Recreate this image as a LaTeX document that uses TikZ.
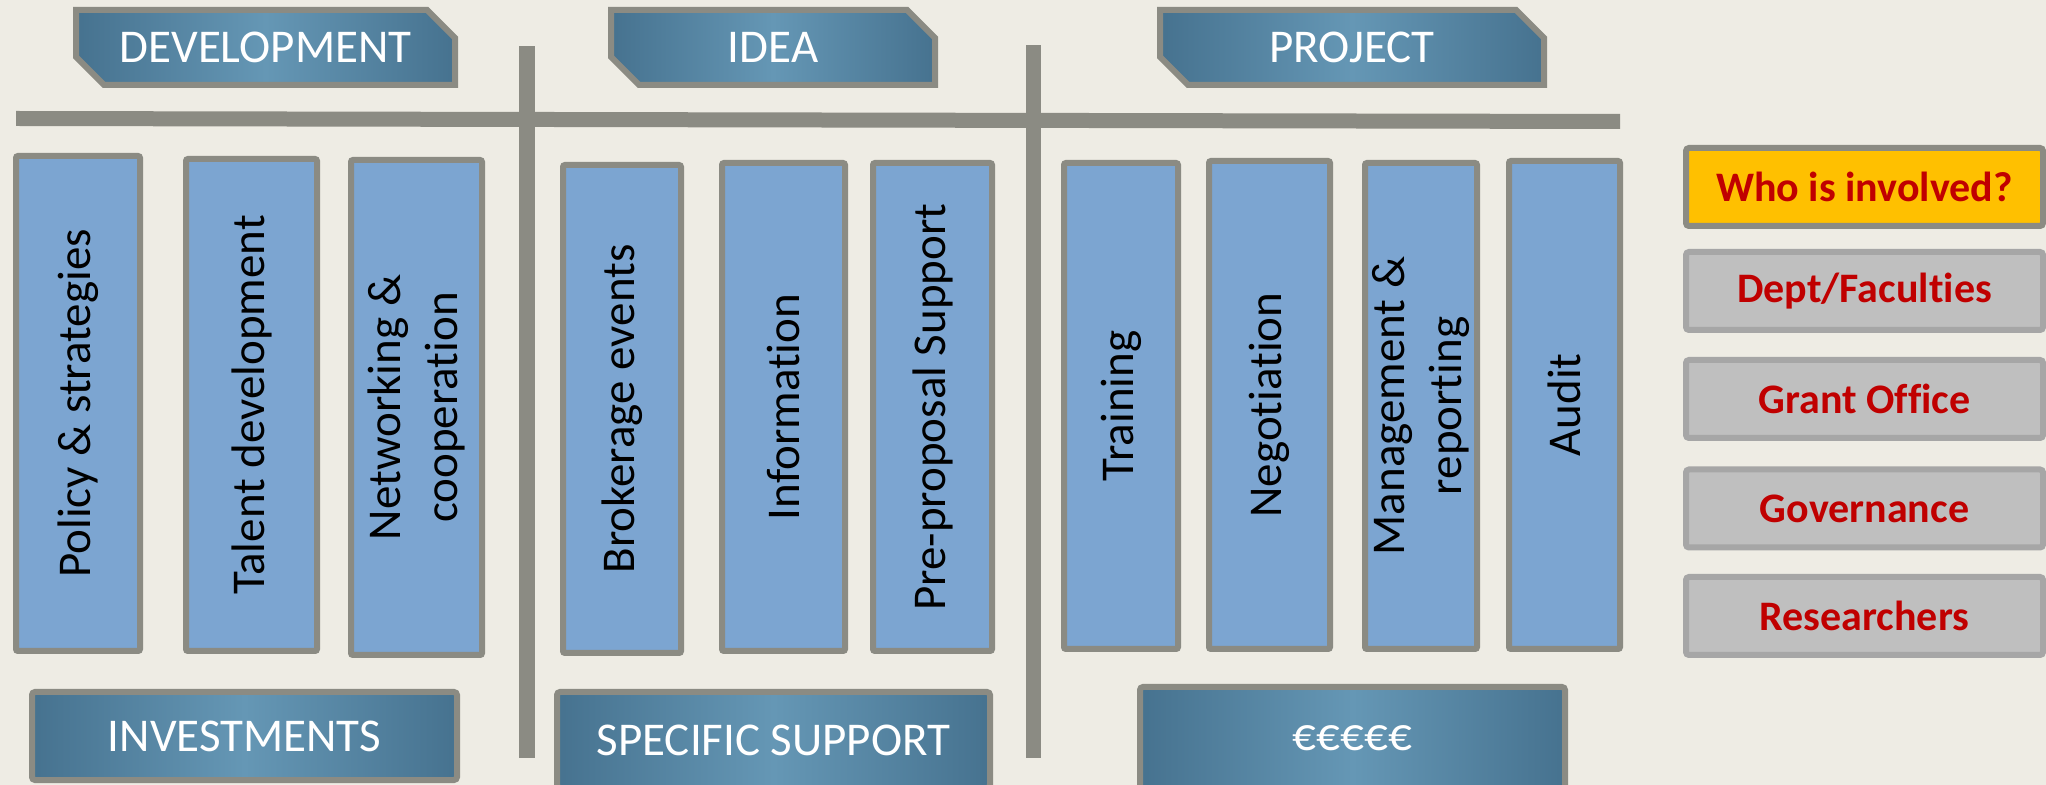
\documentclass[tikz,border=0pt]{standalone}
\usepackage{fontspec}
\setmainfont[Ligatures=NoCommon]{Carlito}
\usetikzlibrary{shapes.misc}
\definecolor{canvas}{HTML}{EEECE4}
\definecolor{barGray}{HTML}{8B8B83}
\definecolor{boxBlue}{HTML}{7CA5D1}
\definecolor{hdrDark}{HTML}{46728F}
\definecolor{hdrLight}{HTML}{6597B5}
\definecolor{redText}{HTML}{C00000}
\definecolor{whoYellow}{HTML}{FFC000}
\definecolor{roleGray}{HTML}{BFBFBF}
\definecolor{roleBorder}{HTML}{A6A6A6}
\begin{document}
\begin{tikzpicture}[x=0.5pt,y=-0.5pt,
  bluebox/.style={draw=barGray, line width=3pt, fill=boxBlue, rounded corners=1pt,
    rotate=90, align=center, inner sep=0pt, text=black,
    font=\fontsize{23.5}{28.6}\selectfont},
  header/.style={chamfered rectangle, chamfered rectangle corners={north east,south west},
    chamfered rectangle xsep=7pt, chamfered rectangle ysep=7pt,
    draw=barGray, line width=3pt, inner sep=0pt,
    left color=hdrDark, right color=hdrDark, middle color=hdrLight,
    text=white, font=\fontsize{23.5}{28}\selectfont},
  footer/.style={rectangle, rounded corners=1.5pt, draw=barGray, line width=3pt, inner sep=0pt,
    left color=hdrDark, right color=hdrDark, middle color=hdrLight,
    text=white, font=\fontsize{23.5}{28}\selectfont},
  rolebox/.style={rectangle, rounded corners=1.5pt, line width=3pt, inner sep=0pt,
    minimum width=178.5pt, minimum height=39pt, text=redText,
    font=\bfseries\fontsize{21}{25}\selectfont},
  who/.style={rolebox, draw=barGray, fill=whoYellow},
  role/.style={rolebox, draw=roleBorder, fill=roleGray},
  bar/.style={fill=barGray}
]
\useasboundingbox (0,0) rectangle (2046,785);
\fill[canvas] (0,0) rectangle (2046,785);

% divider bars
\fill[bar] (16,111) -- (1620,114) -- (1620,129) -- (16,126) -- cycle;
\fill[bar] (519,46) rectangle (535,758);
\fill[bar] (1026,45) rectangle (1041,758);

% phase headers
\node[header, minimum width=189.5pt, minimum height=37.5pt] (dev) at (265.5,47.5) {DEVELOPMENT};
\node[header, minimum width=162pt, minimum height=37.5pt] (idea) at (773,47.5) {IDEA};
\node[header, minimum width=192pt, minimum height=37.5pt] (proj) at (1352,47.5) {PROJECT};

% activity columns
\node[bluebox, minimum width=247.5pt, minimum height=62pt] (policy) at (78,403.5) {Policy \& strategies};
\node[bluebox, minimum width=246pt, minimum height=65.5pt] (talent) at (251.5,405) {Talent development};
\node[bluebox, minimum width=247.5pt, minimum height=65.5pt] (network) at (416.5,407.5) {Networking \&\\cooperation};
\node[bluebox, minimum width=244pt, minimum height=59pt] (brokerage) at (622,409) {Brokerage events};
\node[bluebox, minimum width=244pt, minimum height=61.5pt] (info) at (783.5,407) {Information};
\node[bluebox, minimum width=244pt, minimum height=59.5pt] (preprop) at (932.5,407) {Pre-proposal Support};
\node[bluebox, minimum width=243pt, minimum height=57pt] (training) at (1121,406) {Training};
\node[bluebox, minimum width=244pt, minimum height=60.5pt] (negot) at (1269.5,405) {Negotiation};
\node[bluebox, minimum width=243pt, minimum height=56pt] (mgmt) at (1421,406) {Management \&\\reporting};
\node[bluebox, minimum width=244pt, minimum height=55.5pt] (audit) at (1564.5,405) {Audit};

% resource footers
\node[footer, minimum width=212.5pt, minimum height=44pt] (invest) at (244.5,736) {INVESTMENTS};
\node[footer, minimum width=216.5pt, minimum height=48pt] (support) at (773.5,740) {SPECIFIC SUPPORT};
\node[footer, minimum width=212.5pt, minimum height=51pt] (money) at (1352.5,738) {€€€€€};

% stakeholders
\node[who] (who) at (1864.5,187) {Who is involved?};
\node[role] (dept) at (1864.5,291) {Dept/Faculties};
\node[role] (grant) at (1864.5,399) {Grant Office};
\node[role] (gov) at (1864.5,508.5) {Governance};
\node[role] (res) at (1864.5,616) {Researchers};
\end{tikzpicture}
\end{document}
